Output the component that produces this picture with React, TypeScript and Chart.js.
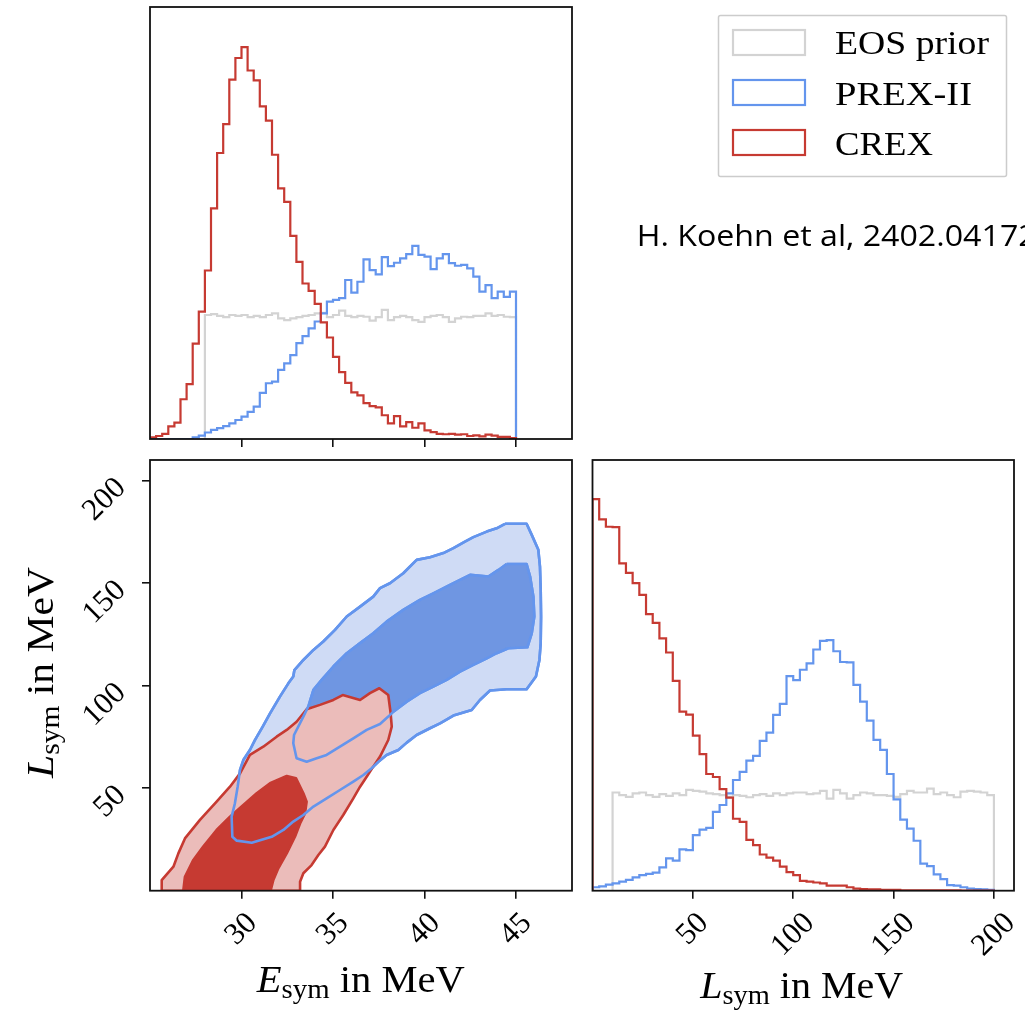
import React, { useEffect, useRef } from "react";
import { Chart, registerables } from "chart.js";

Chart.register(...registerables);

// ---------------- data ----------------
const eTickValues = [30, 35, 40, 45];
const lTickValues = [50, 100, 150, 200];

const eRange = [25, 48.06];
const lRange = [0, 210];

const eBinStart = 25;
const eBinWidth = 1 / 3;
const lBinStart = 0;
const lBinWidth = 10 / 3;

// E_sym marginal histograms (arbitrary density units, 60 bins 25..45)
const crexEsym = [
  0.4, 0.7, 1.2, 2.9, 3.8, 9.2, 12.7, 22.1, 29.5, 39.0,
  53.4, 66.2, 72.9, 83.2, 88.2, 90.7, 85.3, 83.0, 77.0, 73.7,
  65.8, 58.0, 54.9, 47.0, 41.0, 36.0, 34.3, 31.3, 27.0, 23.5,
  19.0, 15.5, 13.0, 10.8, 10.1, 8.3, 7.6, 7.3, 5.5, 3.6,
  5.3, 2.9, 3.9, 2.6, 3.6, 2.0, 1.6, 1.2, 1.1, 1.2,
  1.0, 1.1, 0.7, 0.85, 0.6, 1.0, 0.8, 0.5, 0.5, 0.2,
];
const prexEsym = [
  0, 0, 0, 0, 0, 0, 0, 0.4, 0.8, 1.5,
  2.1, 2.5, 3.0, 3.6, 4.4, 5.2, 6.3, 7.5, 10.7, 12.9,
  13.3, 16.0, 17.5, 19.4, 22.2, 23.8, 25.6, 27.2, 29.1, 31.8,
  32.2, 32.6, 36.8, 33.9, 36.4, 41.6, 39.1, 38.1, 42.1, 40.0,
  40.8, 41.8, 42.8, 44.7, 42.6, 42.2, 39.3, 41.8, 42.8, 40.7,
  40.1, 40.3, 39.5, 37.6, 34.1, 35.6, 32.6, 34.1, 32.9, 34.1,
];
const priorEsymStart = 28;
const priorEsym = [
  28.7, 28.9, 28.5, 28.2, 28.7, 28.5, 28.7, 28.2, 28.5, 28.2,
  28.7, 29.1, 27.9, 27.5, 27.9, 28.2, 28.5, 28.7, 29.1, 29.2,
  28.2, 28.7, 29.7, 28.5, 28.2, 28.5, 28.3, 27.4, 28.2, 29.9,
  27.5, 28.2, 28.5, 28.2, 27.5, 27.1, 28.2, 28.5, 28.7, 28.2,
  27.1, 27.9, 28.3, 28.2, 28.5, 28.5, 29.1, 28.5, 28.7, 28.3,
  28.2,
];

// L_sym marginal histograms (60 bins 0..200)
const crexLsym = [
  90.9, 86.2, 84.5, 84.4, 76.0, 73.8, 71.4, 68.7, 64.2, 62.2,
  58.6, 55.3, 48.7, 41.6, 40.9, 36.0, 31.7, 27.1, 26.4, 23.6,
  21.6, 16.7, 16.0, 11.8, 10.6, 8.4, 7.7, 7.0, 5.6, 4.3,
  3.6, 2.3, 2.1, 1.9, 1.7, 1.2, 1.2, 1.2, 0.8, 0.5,
  0.4, 0.3, 0.3, 0.2, 0.2, 0.2, 0.1, 0.1, 0.1, 0.1,
  0.1, 0.1, 0.1, 0.1, 0.1, 0.05, 0.05, 0.05, 0.05, 0.05,
];
const prexLsym = [
  0.8, 1.0, 1.4, 1.7, 2.1, 2.5, 3.1, 3.6, 3.9, 4.2,
  5.4, 7.5, 7.0, 9.6, 9.4, 12.9, 14.2, 14.6, 18.3, 19.9,
  22.6, 25.7, 27.6, 30.2, 31.3, 34.8, 36.7, 40.8, 43.4, 49.8,
  48.9, 51.3, 52.8, 56.0, 58.0, 58.2, 55.6, 53.1, 53.0, 47.8,
  43.9, 39.5, 35.0, 32.7, 27.1, 21.2, 16.5, 14.4, 11.6, 6.3,
  5.7, 3.8, 2.7, 1.3, 1.2, 0.8, 0.5, 0.4, 0.3, 0.2,
];
const priorLsymStart = 10;
const priorLsym = [
  22.8, 22.2, 21.8, 22.6, 22.8, 22.2, 21.8, 22.4, 22.0, 22.6,
  22.2, 23.4, 23.2, 23.0, 22.6, 22.4, 22.2, 21.8, 22.2, 22.0,
  21.7, 22.2, 22.4, 22.0, 22.6, 22.2, 22.6, 22.8, 22.8, 22.4,
  22.6, 23.2, 21.4, 23.4, 22.6, 21.4, 22.2, 22.8, 22.6, 22.2,
  22.2, 22.0, 21.8, 22.4, 23.2, 22.8, 22.8, 23.7, 22.4, 22.8,
  22.2, 21.7, 23.0, 23.2, 23.0, 22.8, 22.2,
];

// 2D credible regions [E_sym, L_sym]
const prexOuter = [
  [44.4, 178.9], [45.58, 178.9], [45.86, 173.5], [46.22, 166.2], [46.31, 158.0], [46.35, 146.7],
  [46.37, 133.7], [46.35, 120.7], [46.28, 112.5], [46.09, 104.4], [45.58, 98.2], [44.49, 98.2],
  [43.58, 97.6], [43.03, 93.0], [42.58, 88.1], [41.58, 85.4], [40.85, 81.6], [40.3, 79.2],
  [39.57, 75.9], [39.03, 72.2], [38.57, 68.6], [37.93, 66.2], [37.48, 62.9], [37.11, 59.7],
  [36.66, 56.4], [36.11, 53.2], [35.38, 49.1], [34.65, 45.0], [33.93, 41.0], [33.38, 36.9],
  [32.83, 33.7], [32.29, 29.6], [31.65, 26.3], [30.56, 23.4], [29.74, 24.4], [29.5, 26.3],
  [29.46, 36.1], [29.64, 42.6], [29.79, 50.7], [29.92, 58.9], [30.1, 63.7], [30.46, 68.6],
  [30.74, 73.5], [31.16, 80.0], [31.56, 86.5], [32.1, 94.6], [32.56, 101.1], [32.83, 104.4],
  [32.89, 107.6], [33.38, 112.5], [33.93, 117.4], [34.47, 121.5], [35.11, 127.2], [35.75, 133.7],
  [36.48, 138.5], [37.2, 143.4], [37.57, 147.5], [38.11, 149.9], [38.84, 154.8], [39.57, 161.3],
  [40.3, 162.6], [41.03, 164.6], [41.58, 167.0], [42.21, 170.2], [42.67, 172.4], [43.4, 175.1],
  [43.94, 176.7],
];
const prexInner = [
  [44.49, 159.3], [45.58, 159.3], [45.77, 153.2], [45.95, 143.4], [46.0, 133.7], [45.86, 125.5],
  [45.62, 118.7], [44.58, 118.2], [43.94, 115.8], [43.4, 113.3], [42.67, 110.1], [41.94, 106.8],
  [41.21, 102.8], [40.48, 99.5], [39.75, 96.3], [39.03, 92.2], [38.3, 87.3], [38.02, 84.9],
  [37.57, 81.3], [36.84, 78.4], [36.11, 74.3], [35.38, 70.2], [34.65, 66.2], [34.11, 64.6],
  [33.56, 62.9], [33.01, 64.6], [32.83, 71.9], [32.87, 75.9], [33.38, 84.9], [33.65, 89.8],
  [33.93, 97.9], [34.38, 102.8], [35.02, 109.3], [35.75, 115.8], [36.48, 120.7], [37.2, 125.5],
  [37.93, 131.2], [38.84, 136.9], [39.75, 141.8], [40.48, 145.0], [41.39, 149.1], [42.49, 154.0],
  [43.49, 153.2], [44.04, 156.4],
];
const crexOuter = [
  [25.64, 0], [25.64, 5.2], [26.28, 11.7], [26.55, 18.2], [26.91, 25.5], [27.73, 34.5],
  [28.64, 43.4], [29.37, 50.7], [29.92, 57.2], [30.46, 66.2], [31.19, 70.2], [31.92, 75.1],
  [32.47, 78.4], [33.01, 82.4], [33.56, 88.5], [34.29, 90.6], [35.02, 93.0], [35.53, 95.4],
  [36.48, 93.0], [37.02, 96.3], [37.53, 98.7], [38.02, 95.4], [38.15, 86.5], [38.21, 80.0],
  [38.02, 73.5], [37.57, 65.4], [37.2, 60.5], [36.84, 55.6], [36.48, 50.7], [36.11, 45.0],
  [35.56, 36.9], [35.02, 29.6], [34.56, 21.5], [34.2, 17.4], [33.83, 12.5], [33.38, 8.5],
  [33.2, 4.4], [33.2, 0],
];
const crexInner = [
  [26.82, 0], [26.91, 6.8], [27.37, 15.0], [27.91, 21.5], [28.64, 29.6], [29.37, 36.1],
  [30.1, 41.8], [30.83, 47.5], [31.56, 52.4], [32.47, 55.9], [32.98, 54.8], [33.38, 47.5],
  [33.56, 43.4], [33.47, 37.7], [33.2, 32.8], [32.92, 26.3], [32.47, 18.2], [32.01, 10.9],
  [31.74, 5.2], [31.59, 0],
];

const legendLabels = ["EOS prior", "PREX-II", "CREX"];

// ---------------- styles ----------------
const RED = "#c63a32";
const RED_LIGHT = "#ebbcba";
const BLUE = "#6495ed";
const BLUE_DARK = "#6f96e2";
const BLUE_LIGHT = "#cfdbf5";
const GRAY = "#d3d3d3";
const SERIF = '"Liberation Serif", "Times New Roman", serif';
const TICK_FONT = 31;
const TICK_FONT_CSS = `${TICK_FONT}px "Liberation Serif", serif`;

// ---------------- helpers ----------------
function stepPoints(start: number, width: number, vals: number[]) {
  const pts: { x: number; y: number }[] = [{ x: start, y: 0 }];
  vals.forEach((v, i) => pts.push({ x: start + i * width, y: v }));
  const end = start + vals.length * width;
  pts.push({ x: end, y: vals[vals.length - 1] });
  pts.push({ x: end, y: 0 });
  return pts;
}
function polygon(pts: number[][]) {
  const p = pts.map(([x, y]) => ({ x, y }));
  p.push({ ...p[0] });
  return p;
}

const framePlugin = {
  id: "frame",
  afterDraw(chart: any) {
    const { ctx, chartArea: a } = chart;
    ctx.save();
    ctx.strokeStyle = "#111";
    ctx.lineWidth = 1.8;
    ctx.strokeRect(a.left, a.top, a.right - a.left, a.bottom - a.top);
    ctx.restore();
  },
};

function rotatedTickLabels(opts: { x?: boolean; y?: boolean }) {
  return {
    id: "rotatedTickLabels",
    afterDraw(chart: any) {
      const { ctx, chartArea: a } = chart;
      ctx.save();
      ctx.font = TICK_FONT_CSS;
      ctx.fillStyle = "#000";
      ctx.textAlign = "left";
      ctx.textBaseline = "alphabetic";
      const h = TICK_FONT * 0.66;
      const draw = (label: string, cx: number, cy: number, w: number) => {
        ctx.save();
        ctx.translate(cx, cy);
        ctx.rotate(-Math.PI / 4);
        ctx.fillText(label, -w / 2, h / 2);
        ctx.restore();
      };
      if (opts.x) {
        const s = chart.scales.x;
        s.ticks.forEach((t: any) => {
          const label = String(t.value);
          const w = ctx.measureText(label).width;
          const side = (w + h) * Math.SQRT1_2;
          draw(label, s.getPixelForValue(t.value) - 1.5, a.bottom + 19 + side / 2, w);
        });
      }
      if (opts.y) {
        const s = chart.scales.y;
        s.ticks.forEach((t: any) => {
          const label = String(t.value);
          const w = ctx.measureText(label).width;
          const side = (w + h) * Math.SQRT1_2;
          draw(label, a.left - 23 - side / 2, s.getPixelForValue(t.value) - 6 + side / 2, w);
        });
      }
      ctx.restore();
    },
  };
}

function tickAxis(min: number, max: number, ticks: number[], fit: (s: any) => void, showMarks = true) {
  return {
    type: "linear",
    min,
    max,
    afterBuildTicks: (s: any) => {
      s.ticks = ticks.map((v) => ({ value: v }));
    },
    afterFit: fit,
    ticks: { display: false },
    grid: {
      display: showMarks,
      drawOnChartArea: false,
      drawTicks: true,
      tickLength: 8,
      color: "#111",
      lineWidth: 1.6,
    },
    border: { display: false },
  };
}

const baseOptions = {
  responsive: false,
  animation: false,
  events: [],
  plugins: { legend: { display: false }, tooltip: { enabled: false } },
};

function histDataset(pts: any[], color: string, order: number) {
  return {
    data: pts,
    borderColor: color,
    borderWidth: 2.2,
    stepped: true,
    fill: false,
    pointRadius: 0,
    order,
  };
}

function makeTopHist() {
  return {
    type: "line",
    data: {
      datasets: [
        histDataset(stepPoints(priorEsymStart, eBinWidth, priorEsym), GRAY, 3),
        histDataset(stepPoints(eBinStart, eBinWidth, prexEsym), BLUE, 2),
        histDataset(stepPoints(eBinStart, eBinWidth, crexEsym), RED, 1),
      ],
    },
    options: {
      ...baseOptions,
      layout: { padding: { left: 150, top: 7, right: 8, bottom: 0 } },
      scales: {
        x: tickAxis(eRange[0], eRange[1], eTickValues, (s: any) => { s.height = 11; }),
        y: { type: "linear", min: 0, max: 100, display: false },
      },
    },
    plugins: [framePlugin],
  };
}

function makeRightHist() {
  return {
    type: "line",
    data: {
      datasets: [
        histDataset(stepPoints(priorLsymStart, lBinWidth, priorLsym), GRAY, 3),
        histDataset(stepPoints(lBinStart, lBinWidth, prexLsym), BLUE, 2),
        histDataset(stepPoints(lBinStart, lBinWidth, crexLsym), RED, 1),
      ],
    },
    options: {
      ...baseOptions,
      layout: { padding: { left: 7.5, top: 10, right: 11, bottom: 0 } },
      scales: {
        x: tickAxis(lRange[0], lRange[1], lTickValues, (s: any) => { s.height = 119.3; }),
        y: { type: "linear", min: 0, max: 100, display: false },
      },
    },
    plugins: [framePlugin, rotatedTickLabels({ x: true })],
  };
}

function polyDataset(pts: number[][], stroke: string, fillColor: string | null, order: number) {
  return {
    data: polygon(pts),
    borderColor: stroke,
    backgroundColor: fillColor || "rgba(0,0,0,0)",
    fill: fillColor ? "shape" : false,
    borderWidth: 2.6,
    borderJoinStyle: "round",
    pointRadius: 0,
    tension: 0,
    clip: 0,
    order,
  };
}

function makeContour() {
  return {
    type: "line",
    data: {
      datasets: [
        polyDataset(prexOuter, BLUE, BLUE_LIGHT, 6),
        polyDataset(prexInner, BLUE_DARK, BLUE_DARK, 5),
        polyDataset(crexOuter, RED, RED_LIGHT, 4),
        polyDataset(crexInner, RED, RED, 3),
        polyDataset(prexOuter, BLUE, null, 2),
        polyDataset(prexInner, BLUE, null, 1),
      ],
    },
    options: {
      ...baseOptions,
      layout: { padding: { left: 0, top: 10, right: 8, bottom: 0 } },
      scales: {
        x: tickAxis(eRange[0], eRange[1], eTickValues, (s: any) => { s.height = 119.3; }),
        y: tickAxis(lRange[0], lRange[1], lTickValues, (s: any) => { s.width = 150; }),
      },
    },
    plugins: [framePlugin, rotatedTickLabels({ x: true, y: true })],
  };
}

function ChartCanvas(props: { left: number; top: number; width: number; height: number; make: () => any }) {
  const ref = useRef<HTMLCanvasElement | null>(null);
  useEffect(() => {
    if (!ref.current) return;
    const c = new Chart(ref.current, props.make());
    let alive = true;
    const fonts: any = (document as any).fonts;
    if (fonts && fonts.load) {
      fonts
        .load(TICK_FONT_CSS, "0123456789")
        .then(() => {
          if (alive) c.update();
        })
        .catch(() => {});
    }
    return () => {
      alive = false;
      c.destroy();
    };
  }, []);
  return (
    <canvas
      ref={ref}
      width={props.width}
      height={props.height}
      style={{ position: "absolute", left: props.left, top: props.top, width: props.width, height: props.height }}
    />
  );
}

function AxisTitle(props: { x: number; y: number; letter: string; rotate?: boolean; length: number }) {
  const transform = props.rotate
    ? `translate(${props.x} ${props.y}) rotate(-90)`
    : `translate(${props.x} ${props.y})`;
  return (
    <text
      transform={transform}
      x={0}
      y={0}
      textAnchor="middle"
      fontFamily={SERIF}
      fontSize={38}
      fill="#000"
      textLength={props.length}
      lengthAdjust="spacingAndGlyphs"
    >
      <tspan fontStyle="italic">{props.letter}</tspan>
      <tspan fontSize={27} dy={6}>sym</tspan>
      <tspan dy={-6}>{" in MeV"}</tspan>
    </text>
  );
}

export default function App() {
  const legendColors = [GRAY, BLUE, RED];
  const legendWidths = [154, 137, 98];
  return (
    <div
      style={{
        position: "absolute",
        left: 0,
        top: 0,
        width: 1025,
        height: 1010,
        overflow: "hidden",
        background: "#fff",
      }}
    >
      <ChartCanvas left={0} top={0} width={580} height={450} make={makeTopHist} />
      <ChartCanvas left={0} top={450} width={580} height={560} make={makeContour} />
      <ChartCanvas left={585} top={450} width={440} height={560} make={makeRightHist} />
      <svg
        width={1025}
        height={1010}
        style={{ position: "absolute", left: 0, top: 0, pointerEvents: "none" }}
      >
        <rect x={718.5} y={15.5} width={288} height={161} fill="#fff" stroke="#cccccc" strokeWidth={1.5} rx={2} />
        {legendLabels.map((lab, i) => (
          <g key={lab}>
            <rect x={733} y={30 + i * 50} width={72} height={25} fill="none" stroke={legendColors[i]} strokeWidth={2.2} />
            <text
              x={835}
              y={54.3 + i * 50.3}
              fontFamily={SERIF}
              fontSize={33}
              fill="#000"
              textLength={legendWidths[i]}
              lengthAdjust="spacingAndGlyphs"
            >
              {lab}
            </text>
          </g>
        ))}
        <text
          x={636.7}
          y={245.7}
          fontFamily='"Open Sans", "Noto Sans", sans-serif'
          fontSize={29}
          fill="#000"
          textLength={400}
          lengthAdjust="spacingAndGlyphs"
        >
          H. Koehn et al, 2402.04172
        </text>
        <AxisTitle x={360.8} y={991.7} letter="E" length={208} />
        <AxisTitle x={801.7} y={998.3} letter="L" length={203} />
        <AxisTitle x={53.3} y={672.5} letter="L" rotate length={211} />
      </svg>
    </div>
  );
}
